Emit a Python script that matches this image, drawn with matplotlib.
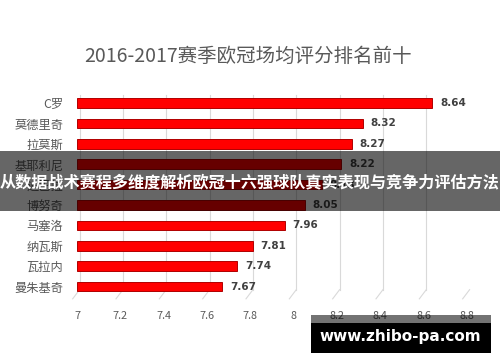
import matplotlib
matplotlib.use("Agg")
import matplotlib.pyplot as plt
from matplotlib.patches import Rectangle

plt.rcParams['font.family'] = ['Noto Sans CJK SC', 'DejaVu Sans']

title = "2016-2017赛季欧冠场均评分排名前十"
players = ["C罗", "莫德里奇", "拉莫斯", "基耶利尼", "迪巴拉",
           "博努奇", "马塞洛", "纳瓦斯", "瓦拉内", "曼朱基奇"]
scores = [8.64, 8.32, 8.27, 8.22, 8.13, 8.05, 7.96, 7.81, 7.74, 7.67]
xticks = [7, 7.2, 7.4, 7.6, 7.8, 8, 8.2, 8.4, 8.6, 8.8]
xticklabels = ["7", "7.2", "7.4", "7.6", "7.8", "8", "8.2", "8.4", "8.6", "8.8"]
banner_text = "从数据战术赛程多维度解析欧冠十六强球队真实表现与竞争力评估方法"
watermark = "www.zhibo-pa.com"

W, H = 500, 362
fig = plt.figure(figsize=(W / 100, H / 100), dpi=100)
fig.patch.set_facecolor("white")

ax = fig.add_axes([77 / W, 1 - 296.8 / H, 390 / W, 204 / H])
base = xticks[0]
ypos = list(range(len(players)))
ax.barh(ypos, [s - base for s in scores], left=base, height=0.48,
        color="#ff0000", edgecolor="#b00000", linewidth=0.7, zorder=3)
for y, s in zip(ypos, scores):
    ax.annotate(f"{s:.2f}", (s, y), xytext=(5.5, 0), textcoords="offset points",
                va="center", ha="left", fontsize=7.5, fontweight="bold",
                color="#404040", family=["DejaVu Sans"], zorder=4)

ax.set_xlim(xticks[0], xticks[-1])
ax.set_ylim(len(players) - 0.5, -0.5)
ax.set_yticks(ypos)
ax.set_yticklabels(players, fontsize=8.8, color="#595959")
ax.set_xticks(xticks)
ax.set_xticklabels(xticklabels, fontsize=7.8, color="#595959")
ax.tick_params(axis="y", length=0, pad=10)
ax.tick_params(axis="x", length=0, pad=10)
for sp in ax.spines.values():
    sp.set_visible(False)

# gridlines with slanted "floor" ends
for t in xticks:
    ax.plot([t + 0.012, t + 0.012], [-0.38, 9.15], color="#d9d9d9", lw=0.8, zorder=1)
    ax.plot([t + 0.012, t - 0.02], [9.15, 9.6], color="#d9d9d9", lw=0.8,
            zorder=1, clip_on=False)

fig.text(248 / W, 1 - 56 / H, title, ha="center", va="center",
         fontsize=14, color="#595959")

# banner overlay
fig.add_artist(Rectangle((0, 1 - 211 / H), 1, 60 / H, transform=fig.transFigure,
                         facecolor="black", alpha=0.6, edgecolor="none", zorder=10))
fig.text(0.5, 1 - 182 / H, banner_text, ha="center", va="center",
         fontsize=11.6, fontweight="bold", color="white", zorder=11)

# watermark
fig.add_artist(Rectangle((311 / W, 1 - 323 / H), 180 / W, 8 / H, transform=fig.transFigure,
                         facecolor="black", alpha=0.55, edgecolor="none", zorder=10))
fig.add_artist(Rectangle((311 / W, 1 - 353 / H), 180 / W, 30 / H, transform=fig.transFigure,
                         facecolor="black", edgecolor="none", zorder=10))
fig.text(400 / W, 1 - 337 / H, watermark, ha="center", va="center",
         fontsize=11, fontweight="bold", color="white",
         family=["DejaVu Sans"], zorder=11)

fig.savefig("out.png", dpi=100)
